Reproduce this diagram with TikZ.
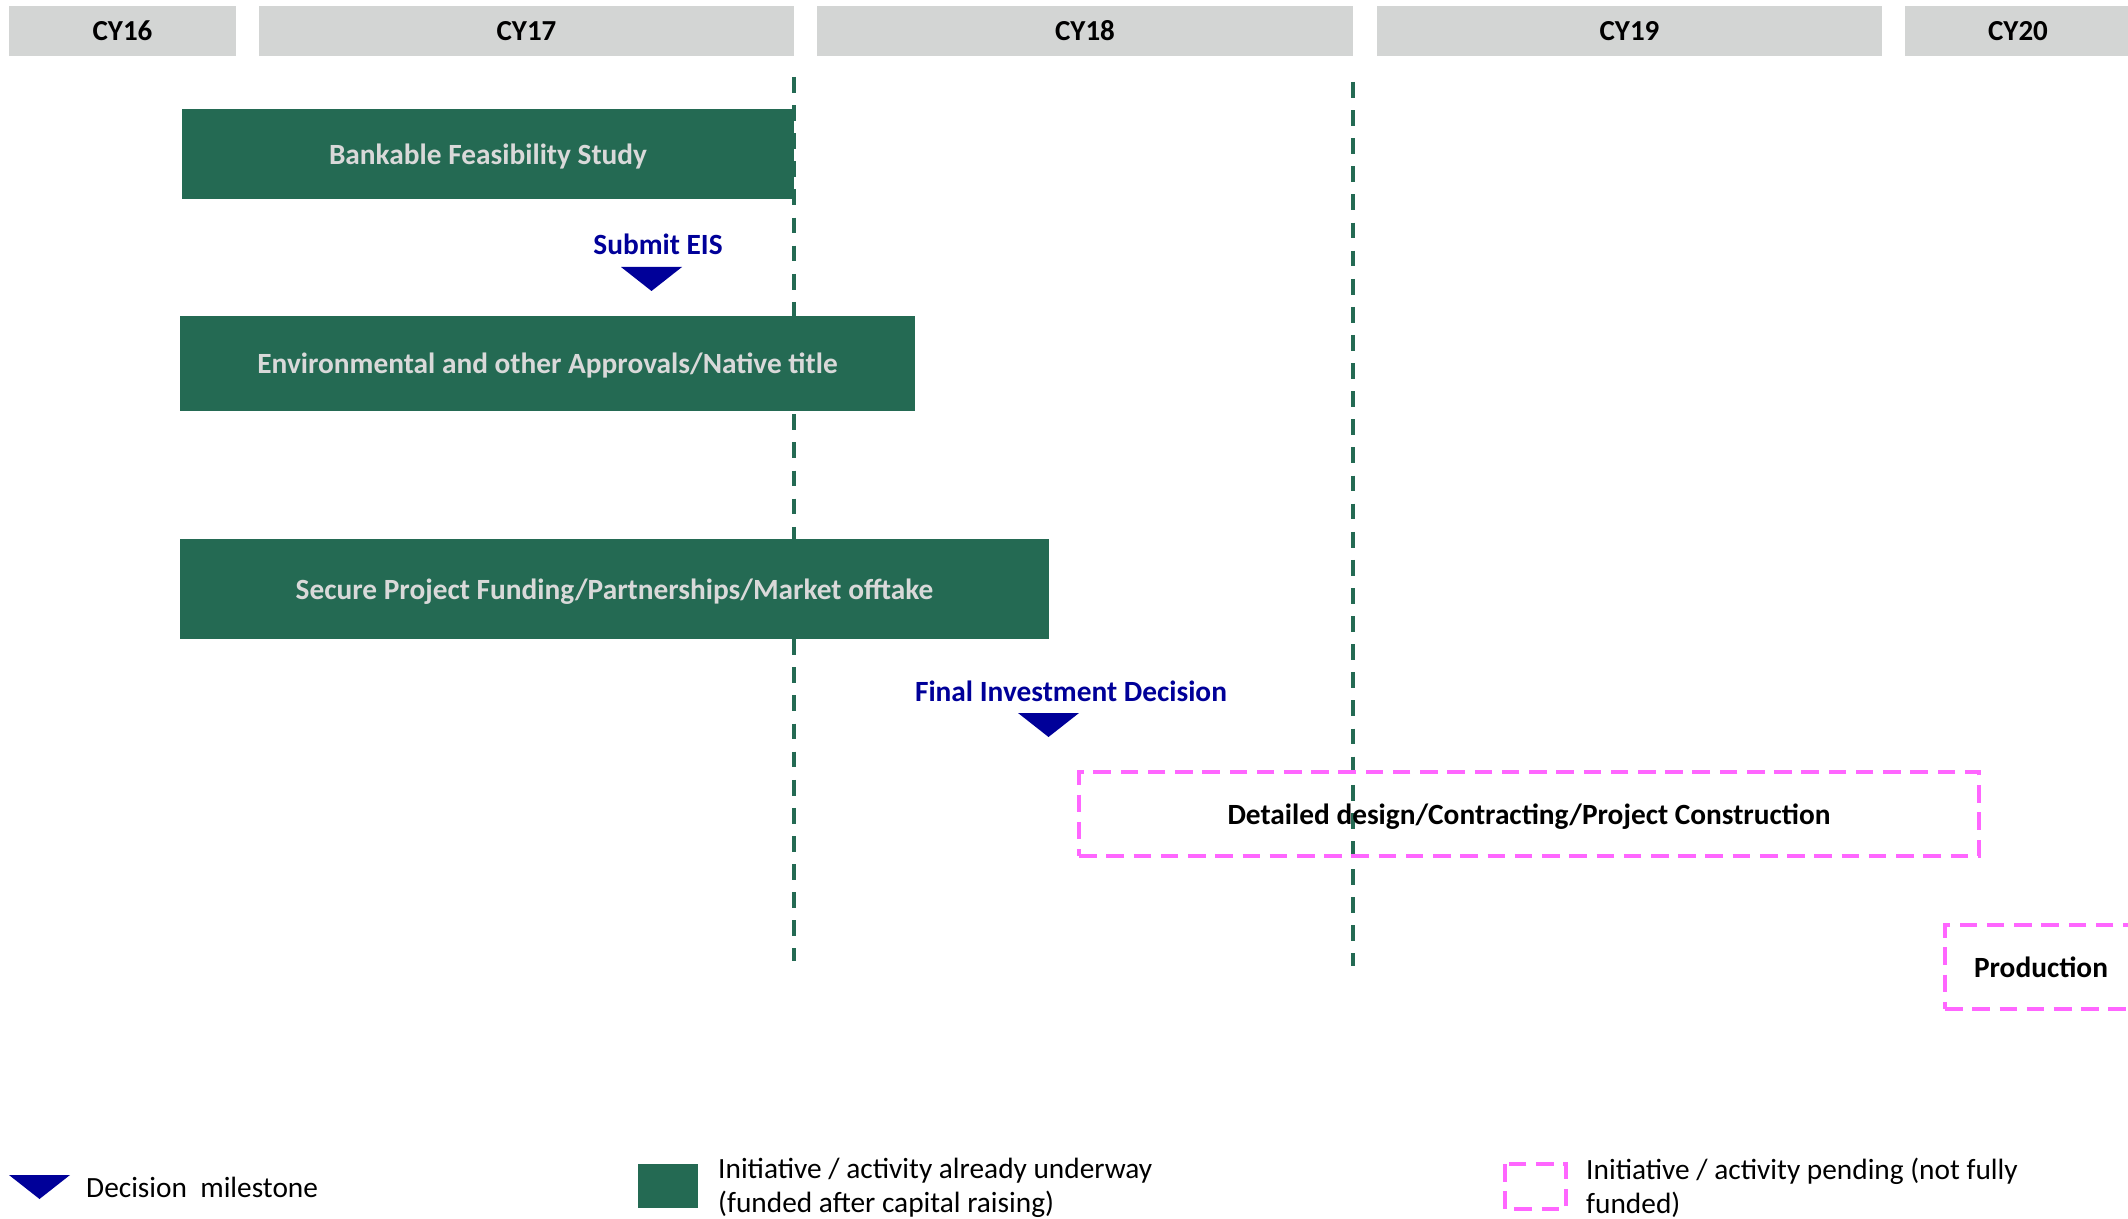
\documentclass[tikz,border=0pt]{standalone}
\usepackage{fontspec}
\setmainfont{Carlito}
\usepackage{tikz}

\definecolor{hdrgray}{RGB}{211,213,212}
\definecolor{bargreen}{RGB}{36,106,83}
\definecolor{bartext}{RGB}{217,217,217}
\definecolor{msblue}{RGB}{0,0,153}
\definecolor{pendpink}{RGB}{255,102,255}

\tikzset{
  year/.style={fill=hdrgray, inner sep=0pt, minimum height=1.0cm,
    font=\fontsize{16.5}{19}\selectfont\bfseries},
  underway/.style={fill=bargreen, inner sep=0pt, text=bartext, text depth=0pt,
    font=\fontsize{16.7}{19}\selectfont\bfseries},
  pending/.style={draw=pendpink, line width=2.2pt, dash pattern=on 10pt off 5.5pt,
    inner sep=0pt, text depth=0pt, font=\fontsize{16.7}{19}\selectfont\bfseries},
  mstext/.style={text=msblue, font=\fontsize{16.7}{19}\selectfont\bfseries},
  yearline/.style={draw=bargreen, line width=2pt, dash pattern=on 9pt off 7pt},
  legtext/.style={anchor=west, align=left,
    font=\fontsize{16.7}{19.5}\selectfont}
}

\begin{document}
\begin{tikzpicture}[x=0.02cm, y=-0.02cm]
  \clip (0,0) rectangle (2128,1219);
  \fill[white] (0,0) rectangle (2128,1219);
  % year headers
  \node[year, minimum width=4.54cm]  at (122.5,31) (cy16) {CY16};
  \node[year, minimum width=10.7cm]  at (526.5,31) (cy17) {CY17};
  \node[year, minimum width=10.72cm] at (1085,31)  (cy18) {CY18};
  \node[year, minimum width=10.1cm]  at (1629.5,31) (cy19) {CY19};
  \node[year, minimum width=4.52cm]  at (2018,31)  (cy20) {CY20};
  % year boundaries
  \coordinate (top17) at (794,77);
  \coordinate (bot17) at (794,961);
  \coordinate (top18) at (1353,82);
  \coordinate (bot18) at (1353,966);
  \draw[yearline] (top17) -- (bot17);
  \draw[yearline] (top18) -- (bot18);
  % activities
  \node[underway, minimum width=12.24cm, minimum height=1.8cm] at (488,154) (bfs)
    {Bankable Feasibility Study};
  \node[underway, minimum width=14.7cm, minimum height=1.9cm] at (547.5,363.5) (env)
    {Environmental and other Approvals/Native title};
  \node[underway, minimum width=17.38cm, minimum height=2.0cm] at (614.5,589) (fund)
    {Secure Project Funding/Partnerships/Market offtake};
  \node[pending, minimum width=18.0cm, minimum height=1.68cm] at (1529,814) (design)
    {Detailed design/Contracting/Project Construction};
  \node[pending, minimum width=3.84cm, minimum height=1.68cm] at (2041,967) (prod)
    {Production};
  % milestones
  \node[mstext] at (658,244) (eis) {Submit EIS};
  \fill[msblue] (621,267) -- (682,267) -- (651.5,291) -- cycle;
  \node[mstext] at (1071,691) (fid) {Final Investment Decision};
  \fill[msblue] (1018,713) -- (1079,713) -- (1048.5,737) -- cycle;
  % legend
  \fill[msblue] (9,1175) -- (70,1175) -- (39.5,1199) -- cycle;
  \node[legtext] at (80,1187) (legms) {Decision\ \ milestone};
  \fill[bargreen] (638,1164) rectangle (698,1208);
  \node[legtext] at (712,1188) (legon) {Initiative / activity already underway\\(funded after capital raising)};
  \draw[draw=pendpink, line width=2.2pt, dash pattern=on 10pt off 5.5pt] (1505,1164) rectangle (1566,1209);
  \node[legtext] at (1580,1188) (legpend) {Initiative / activity pending (not fully\\funded)};
\end{tikzpicture}
\end{document}
